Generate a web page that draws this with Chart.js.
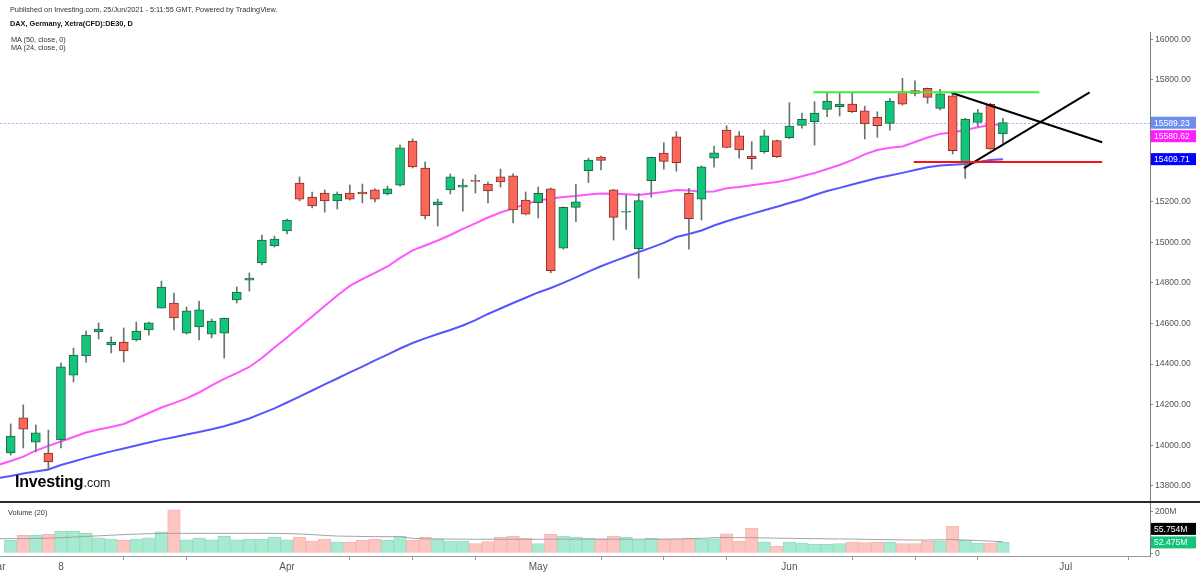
<!DOCTYPE html>
<html>
<head>
<meta charset="utf-8">
<title>DAX, Germany, Xetra(CFD):DE30, D</title>
<script src="https://cdn.jsdelivr.net/npm/chart.js@4.4.0/dist/chart.umd.min.js"></script>
<style>
  html, body { margin: 0; padding: 0; background: #fff; }
  #wrap { position: relative; width: 1200px; height: 575px; overflow: hidden; font-family: 'Liberation Sans', Arial, sans-serif; }
  #wrap canvas { position: absolute; left: 0; top: 0; }
  .txt { position: absolute; white-space: nowrap; line-height: 1; color: #333; font-size: 7.3px; }
  .logo { position: absolute; left: 15px; top: 474px; white-space: nowrap; line-height: 1; font-size: 16px; font-weight: bold; color: #000; letter-spacing: -0.2px; }
  .logo span { font-weight: normal; font-size: 12.5px; color: #222; letter-spacing: 0; }
</style>
</head>
<body>
<div id="wrap">
  <canvas id="dax" width="1200" height="575"></canvas>
  <div class="txt" style="left:10px;top:6.3px">Published on Investing.com, 25/Jun/2021 - 5:11:55 GMT, Powered by TradingView.</div>
  <div class="txt" style="left:10px;top:19.6px;font-weight:bold;color:#111">DAX, Germany, Xetra(CFD):DE30, D</div>
  <div class="txt" style="left:11px;top:35.6px">MA (50, close, 0)</div>
  <div class="txt" style="left:11px;top:44px">MA (24, close, 0)</div>
  <div class="txt" style="left:8px;top:508.6px">Volume (20)</div>
  <div class="logo">Investing<span>.com</span></div>
</div>
<script>
const FONT = "'Liberation Sans', Arial, sans-serif";

// daily bars, 2 Mar - 24 Jun 2021 (index 0 = first bar)
const opens = [13962, 14135, 14016, 13962, 14026, 14346, 14440, 14558, 14494, 14509,
  14519, 14568, 14676, 14701, 14553, 14583, 14548, 14553, 14716, 14814,
  14898, 14982, 15056, 15292, 15223, 15243, 15204, 15243, 15248, 15258,
  15238, 15282, 15499, 15366, 15184, 15258, 15272, 15305, 15287, 15322,
  15327, 15208, 15195, 15263, 14971, 15172, 15353, 15420, 15258, 15148,
  14969, 15304, 15439, 15520, 15241, 15212, 15414, 15553, 15525, 15425,
  15446, 15501, 15515, 15576, 15594, 15655, 15668, 15681, 15648, 15616,
  15586, 15742, 15747, 15759, 15660, 15722, 15397, 15591, 15680, 15534];
const highs = [14105, 14199, 14100, 14075, 14406, 14479, 14563, 14603, 14534, 14578,
  14607, 14607, 14809, 14750, 14681, 14711, 14622, 14627, 14780, 14849,
  15036, 15031, 15115, 15322, 15248, 15258, 15248, 15282, 15287, 15263,
  15277, 15479, 15509, 15396, 15213, 15337, 15312, 15332, 15297, 15361,
  15337, 15248, 15272, 15268, 15175, 15286, 15414, 15425, 15261, 15233,
  15241, 15420, 15491, 15545, 15266, 15376, 15474, 15574, 15545, 15496,
  15553, 15504, 15688, 15636, 15693, 15734, 15734, 15734, 15671, 15643,
  15709, 15808, 15796, 15760, 15754, 15734, 15611, 15655, 15685, 15611];
const lows = [13952, 13987, 13967, 13878, 13987, 14312, 14410, 14524, 14455, 14410,
  14514, 14543, 14676, 14568, 14548, 14519, 14529, 14430, 14701, 14760,
  14888, 14977, 15041, 15204, 15169, 15149, 15164, 15208, 15194, 15199,
  15233, 15277, 15366, 15115, 15080, 15238, 15154, 15243, 15194, 15272,
  15095, 15135, 15120, 14850, 14966, 15102, 15294, 15356, 15011, 15064,
  14823, 15222, 15360, 15350, 14966, 15110, 15370, 15465, 15414, 15360,
  15439, 15418, 15511, 15562, 15479, 15619, 15622, 15639, 15509, 15517,
  15553, 15676, 15721, 15685, 15652, 15435, 15315, 15570, 15458, 15488];
const closes = [14046, 14080, 14061, 13918, 14386, 14445, 14543, 14573, 14509, 14465,
  14563, 14603, 14780, 14627, 14662, 14667, 14612, 14627, 14755, 14824,
  15011, 15016, 15110, 15213, 15179, 15204, 15238, 15213, 15238, 15213,
  15263, 15465, 15371, 15130, 15199, 15322, 15282, 15300, 15253, 15297,
  15159, 15139, 15241, 14860, 15172, 15200, 15405, 15404, 15123, 15153,
  15205, 15419, 15399, 15392, 15116, 15372, 15441, 15468, 15455, 15412,
  15525, 15422, 15573, 15606, 15636, 15696, 15681, 15643, 15583, 15574,
  15696, 15680, 15734, 15714, 15731, 15451, 15607, 15638, 15460, 15589.23];
// volume, millions
const volumes = [62.5, 86.5, 86.5, 91.3, 107.2, 107.2, 96.2, 75, 68.8, 62.5,
  68.8, 75, 103.8, 209.6, 65.4, 73.6, 65.4, 81.7, 65.4, 68.8,
  68.8, 78.4, 65.4, 78.4, 59.1, 68.8, 54.3, 54.3, 62.5, 67.3,
  62.5, 83.2, 64, 78.4, 67.3, 59.1, 59.1, 46.2, 55.8, 78.4,
  83.2, 73.6, 46.2, 91.3, 83.2, 78.4, 73.6, 70.2, 83.2, 78.4,
  64, 72.1, 67.3, 67.3, 73.6, 67.3, 70.2, 94.2, 59.1, 121.6,
  54.3, 35.1, 54.3, 49.5, 43.3, 43.3, 46.2, 54.3, 51, 54.3,
  54.3, 46.2, 46.2, 59.1, 59.1, 129.8, 62.5, 49.5, 49.5, 52.475];

// averages start one bar earlier (index -1) so they reach the left edge
const maStart = -1;
const ma24 = [13903, 13923, 13944, 13974, 13997, 14019, 14041, 14063, 14078, 14090,
  14105, 14132, 14159, 14186, 14208, 14231, 14260, 14295, 14327, 14356,
  14386, 14430, 14482, 14531, 14583, 14635, 14686, 14738, 14785, 14819,
  14849, 14881, 14923, 14960, 14984, 15009, 15036, 15066, 15093, 15122,
  15147, 15167, 15189, 15206, 15216, 15223, 15228, 15236, 15241, 15239,
  15237, 15233, 15240, 15248, 15258, 15255, 15249, 15250, 15266, 15272,
  15281, 15290, 15297, 15309, 15325, 15341, 15361, 15381, 15405, 15433,
  15455, 15466, 15472, 15494, 15516, 15534, 15542, 15553, 15567, 15578, 15580.62];
const ma50 = [13839, 13849, 13861, 13871, 13881, 13903, 13920, 13938, 13955, 13970,
  13984, 13999, 14014, 14028, 14040, 14053, 14066, 14079, 14094, 14112,
  14132, 14157, 14182, 14211, 14240, 14270, 14300, 14329, 14359, 14388,
  14418, 14447, 14477, 14504, 14527, 14548, 14568, 14590, 14617, 14647,
  14674, 14701, 14727, 14753, 14775, 14800, 14827, 14856, 14882, 14906,
  14929, 14952, 14974, 14997, 15026, 15041, 15058, 15083, 15104, 15122,
  15140, 15158, 15175, 15194, 15211, 15233, 15253, 15268, 15285, 15301,
  15317, 15329, 15342, 15356, 15370, 15378, 15382, 15386, 15396, 15405, 15409.71];
const volMa20 = [70.3, 70.5, 70.8, 71.5, 72.5, 75, 78, 81, 84, 87,
  90, 92.5, 94.5, 96, 96, 96, 96, 96, 96, 96,
  96, 96, 96, 95, 93, 90, 86, 83, 82, 81,
  80, 80, 80, 72, 70, 69, 68.5, 68, 67.5, 67.5,
  67.5, 67.5, 67.5, 67.5, 68, 68, 68, 68, 68, 68,
  68, 68, 68, 68.5, 69, 70, 72, 75, 76, 75.5,
  75, 74, 73, 72, 71, 70.3, 69.5, 69, 68.5, 67.5,
  66.5, 65.5, 64.5, 64, 64, 65, 66, 64, 61.5, 58.5, 55.754];

const priceTicks = [13800, 14000, 14200, 14400, 14600, 14800, 15000, 15200, 15400, 15600, 15800, 16000];
const volTicks = [0, 200];
const dateTickIdx = [-1.1, 4, 9, 14, 22, 27, 32, 37, 42, 47, 52, 57, 62, 67, 72, 77, 84, 89];
const dateTickLabels = ['Mar', '8', '', '', 'Apr', '', '', '', 'May', '', '', '', 'Jun', '', '', '', 'Jul', ''];

// hand drawn lines, [bar index, price]
const resistance = [[63.9, 15739], [81.9, 15739]];
const support = [[71.9, 15396], [86.9, 15396]];
const wedgeUpper = [[74.9, 15737], [86.9, 15493]];
const wedgeLower = [[75.9, 15365], [85.9, 15739]];

const xMin = -0.852, xMax = 90.71;

const up = closes.map((c, i) => c >= opens[i]);
const series = (arr, start) => arr.map((v, i) => ({ x: i + start, y: v }));
const seg = (p) => p.map(q => ({ x: q[0], y: q[1] }));

function trend(points, color) {
  return {
    type: 'line', data: seg(points), borderColor: color, borderWidth: 2,
    pointRadius: 0, yAxisID: 'y', order: 0
  };
}

const lastLabels = {
  id: 'lastLabels',
  beforeDatasetsDraw(chart) {
    const { ctx, chartArea, scales } = chart;
    const y = Math.round(scales.y.getPixelForValue(closes[closes.length - 1])) + 0.5;
    ctx.save();
    ctx.strokeStyle = '#9fb3f6';
    ctx.lineWidth = 1;
    ctx.setLineDash([2, 2]);
    ctx.beginPath();
    ctx.moveTo(chartArea.left, y);
    ctx.lineTo(chartArea.right, y);
    ctx.stroke();
    ctx.restore();
  },
  afterDraw(chart) {
    const { ctx, scales, width } = chart;
    const py = scales.y, vy = scales.yv;
    ctx.save();
    // pane separator
    ctx.fillStyle = '#2b2b2b';
    ctx.fillRect(0, py.bottom - 2, width, 2);

    function box(y, text, bg) {
      ctx.fillStyle = bg;
      ctx.fillRect(py.left + 1, y - 6, 45, 12);
      ctx.fillStyle = '#fff';
      ctx.font = '8.6px ' + FONT;
      ctx.textAlign = 'left';
      ctx.textBaseline = 'middle';
      ctx.fillText(text, py.left + 4, y + 0.5);
    }
    function apart(main, mainVal, val, scale) {
      let y = scale.getPixelForValue(val);
      if (Math.abs(y - main) < 13.5) y = main + (val < mainVal ? 13.5 : -13.5);
      return y;
    }

    const last = closes[closes.length - 1];
    const lastY = py.getPixelForValue(last);
    const m24 = ma24[ma24.length - 1], m50 = ma50[ma50.length - 1];
    box(apart(lastY, last, m50, py), m50.toFixed(2), '#0000ff');
    box(apart(lastY, last, m24, py), m24.toFixed(2), '#ff1cff');
    box(lastY, last.toFixed(2), '#6c8ef0');

    const lv = volumes[volumes.length - 1], mv = volMa20[volMa20.length - 1];
    const lvY = vy.getPixelForValue(lv);
    box(apart(lvY, lv, mv, vy), mv.toFixed(3) + 'M', '#000');
    box(lvY, lv.toFixed(3) + 'M', up[up.length - 1] ? '#14c47c' : '#f9675a');
    ctx.restore();
  }
};

const fixWidth = (s) => { s.width = 50; };

new Chart(document.getElementById('dax'), {
  type: 'bar',
  data: {
    datasets: [
      trend(resistance, '#3cef3c'),
      trend(support, '#ff1010'),
      trend(wedgeUpper, '#000'),
      trend(wedgeLower, '#000'),
      {
        label: 'body', data: closes.map((c, i) => ({ x: i, y: [opens[i], c] })),
        backgroundColor: up.map(u => u ? '#12c47c' : '#f9675a'),
        borderColor: up.map(u => u ? '#236340' : '#8e2e25'),
        borderWidth: 1, borderSkipped: false, barThickness: 9, grouped: false,
        yAxisID: 'y', order: 3
      },
      {
        label: 'wick', data: closes.map((c, i) => ({ x: i, y: [lows[i], highs[i]] })),
        backgroundColor: '#66766c', barThickness: 1, grouped: false,
        yAxisID: 'y', order: 4
      },
      {
        type: 'line', label: 'MA 24', data: series(ma24, maStart),
        borderColor: '#ff57ff', borderWidth: 2, pointRadius: 0, yAxisID: 'y', order: 5
      },
      {
        type: 'line', label: 'MA 50', data: series(ma50, maStart),
        borderColor: '#5656ff', borderWidth: 2, pointRadius: 0, yAxisID: 'y', order: 6
      },
      {
        type: 'line', label: 'Vol MA', data: series(volMa20, maStart),
        borderColor: '#a3a3a3', borderWidth: 1, pointRadius: 0, yAxisID: 'yv', order: 7
      },
      {
        label: 'Volume', data: volumes.map((v, i) => ({ x: i, y: v })),
        backgroundColor: up.map(u => u ? '#a7ead0' : '#fdc5c2'),
        borderColor: up.map(u => u ? '#92e0c1' : '#f8b5b1'),
        borderWidth: 1, borderSkipped: 'bottom', barPercentage: 1, categoryPercentage: 1,
        grouped: false, yAxisID: 'yv', order: 8
      }
    ]
  },
  options: {
    responsive: false,
    animation: false,
    devicePixelRatio: 1,
    events: [],
    layout: { autoPadding: false, padding: { top: 32, left: 0, right: 0, bottom: 0 } },
    plugins: { legend: { display: false }, tooltip: { enabled: false } },
    scales: {
      x: {
        type: 'linear', min: xMin, max: xMax, offset: false,
        afterBuildTicks: (s) => { s.ticks = dateTickIdx.map(v => ({ value: v })); },
        afterFit: (s) => { s.height = 19; s.paddingLeft = 0; s.paddingRight = 0; },
        ticks: {
          autoSkip: false, maxRotation: 0, padding: 1, color: '#555',
          font: { family: FONT, size: 10 },
          callback: (v) => dateTickLabels[dateTickIdx.indexOf(v)] || ''
        },
        grid: {
          offset: false, drawOnChartArea: false, tickLength: 4,
          color: (c) => dateTickLabels[c.index] ? 'rgba(0,0,0,0)' : '#9a9a9a'
        },
        border: { color: '#9a9a9a' }
      },
      y: {
        type: 'linear', position: 'right', stack: 'panes', stackWeight: 471,
        min: 13715.8, max: 16036,
        afterBuildTicks: (s) => { s.ticks = priceTicks.map(v => ({ value: v })); },
        afterFit: fixWidth,
        ticks: { padding: 2, color: '#555', font: { family: FONT, size: 8.6 }, callback: (v) => v.toFixed(2) },
        grid: { drawOnChartArea: false, tickLength: 3, color: '#888' },
        border: { color: '#7a7a7a' }
      },
      yv: {
        type: 'linear', position: 'right', stack: 'panes', stackWeight: 53,
        min: -13, max: 242,
        afterBuildTicks: (s) => { s.ticks = volTicks.map(v => ({ value: v })); },
        afterFit: fixWidth,
        ticks: { padding: 2, color: '#555', font: { family: FONT, size: 8.6 }, callback: (v) => v === 0 ? '0' : v + 'M' },
        grid: { drawOnChartArea: false, tickLength: 3, color: '#888' },
        border: { color: '#7a7a7a' }
      }
    }
  },
  plugins: [lastLabels]
});
</script>
</body>
</html>
